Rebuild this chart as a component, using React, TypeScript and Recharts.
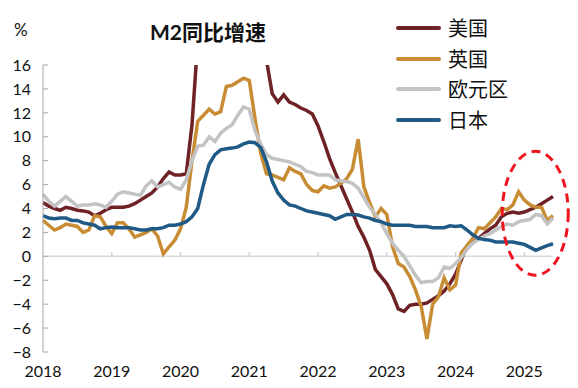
import { LineChart, Line, XAxis, YAxis, Legend, ReferenceLine, ReferenceDot } from 'recharts';

// monthly, Jan 2018 .. Jun 2025
const YEARS = ['2018', '2019', '2020', '2021', '2022', '2023', '2024', '2025'];
const Y_TICKS = [-8, -6, -4, -2, 0, 2, 4, 6, 8, 10, 12, 14, 16];

const US = [
  4.5, 4.2, 4.0, 3.85, 4.1, 4.0, 3.85, 3.8, 3.7, 3.4, 3.6, 3.9,
  4.1, 4.1, 4.1, 4.2, 4.4, 4.7, 5.0, 5.3, 5.8, 6.5, 7.05, 6.8,
  6.8, 6.9, 11.0, 18.0, 23.0, 23.5, 23.5, 23.8, 24.5, 24.2, 24.8, 25.5,
  26.0, 27.0, 24.0, 16.4, 13.6, 12.9, 13.5, 12.9, 12.7, 12.4, 12.2, 11.9,
  10.9, 9.6, 8.2, 7.0, 5.9, 4.8, 3.7, 2.5, 1.6, 0.5, -1.1, -1.7,
  -2.3, -3.2, -4.4, -4.6, -4.1, -4.0, -4.0, -3.9, -3.6, -3.3, -2.9, -2.3,
  -1.5, -0.3, 0.9, 1.1, 1.5, 1.9, 2.3, 2.6, 3.3, 3.6, 3.7, 3.6,
  3.7, 3.9, 4.1, 4.4, 4.7, 5.0,
];
const UK = [
  3.0, 2.6, 2.2, 2.4, 2.7, 2.6, 2.5, 2.0, 2.2, 3.4, 3.3, 2.5,
  1.9, 2.8, 2.8, 2.3, 1.6, 1.8, 2.0, 2.3, 1.7, 0.2, 0.8, 1.35,
  2.3, 4.1, 8.0, 11.3, 11.8, 12.3, 11.9, 12.1, 14.2, 14.3, 14.6, 14.9,
  14.7, 11.5, 8.6, 6.9, 6.8, 6.6, 6.4, 7.4, 7.1, 6.9, 6.0, 5.5,
  5.4, 5.9, 5.7, 5.8, 6.1, 6.5, 7.3, 9.8, 5.8, 4.5, 3.3, 4.0,
  3.5, 0.8, -0.6, -0.9, -1.7, -2.8, -4.2, -6.9, -4.0, -3.4, -1.8, -2.8,
  -2.4, 0.3, 0.9, 1.5, 2.4, 2.3, 2.8, 3.3, 4.0, 3.9, 4.3, 5.4,
  4.7, 4.3, 4.1, 4.1, 3.0, 3.4,
];
const EA = [
  5.2, 4.6, 4.2, 4.6, 5.0, 4.6, 4.2, 4.3, 4.3, 4.4, 4.3, 4.1,
  4.6, 5.2, 5.4, 5.3, 5.2, 5.1, 5.9, 6.3, 5.8, 6.0, 6.2, 5.8,
  5.6, 6.4, 8.0, 9.2, 9.3, 10.0, 9.6, 10.3, 10.7, 11.0, 11.8, 12.5,
  12.3, 10.5, 9.4, 8.5, 8.2, 8.1, 8.0, 7.9, 7.7, 7.5, 7.1, 7.0,
  6.8, 6.8, 6.8, 6.4, 6.3, 6.25, 6.1, 5.7, 4.9, 4.1, 3.5, 2.8,
  1.9, 1.1, 0.5, 0.0, -0.8, -1.6, -2.2, -2.1, -2.1, -1.8, -0.9, -1.0,
  -0.6, -0.1, 0.6, 1.1, 1.4, 1.7, 1.9, 2.2, 2.5, 2.7, 2.6, 2.9,
  3.0, 3.1, 3.5, 3.4, 2.7, 3.2,
];
const JP = [
  3.4, 3.2, 3.15, 3.2, 3.2, 3.0, 3.0, 2.8, 2.7, 2.6, 2.3, 2.4,
  2.45, 2.4, 2.4, 2.4, 2.3, 2.2, 2.2, 2.3, 2.3, 2.4, 2.6, 2.6,
  2.7, 2.9, 3.3, 4.0, 6.0, 7.7, 8.5, 8.9, 9.0, 9.05, 9.15, 9.4,
  9.55, 9.5, 9.1, 7.9, 6.3, 5.3, 4.7, 4.3, 4.2, 4.0, 3.8, 3.7,
  3.6, 3.5, 3.4, 3.1, 3.3, 3.5, 3.5, 3.45, 3.3, 3.2, 3.0, 2.9,
  2.7, 2.6, 2.6, 2.6, 2.6, 2.5, 2.5, 2.5, 2.4, 2.4, 2.4, 2.55,
  2.5, 2.55, 2.2, 1.8, 1.5, 1.4, 1.35, 1.2, 1.2, 1.2, 1.2, 1.1,
  1.0, 0.75, 0.5, 0.7, 0.9, 1.05,
];

const SERIES = [
  { key: 'us', name: '美国', color: '#6f2226', values: US },
  { key: 'uk', name: '英国', color: '#c88d34', values: UK },
  { key: 'ea', name: '欧元区', color: '#c3c3c3', values: EA },
  { key: 'jp', name: '日本', color: '#1f5a86', values: JP },
];

const data = US.map((_, i) => {
  const row: Record<string, number> = { m: i };
  SERIES.forEach((s) => { row[s.key] = s.values[i]; });
  return row;
});

const FONT = "Lato, 'Noto Sans CJK SC', sans-serif";
const CJK = "'Noto Sans CJK SC', sans-serif";

function LegendBox() {
  return (
    <div style={{ fontFamily: CJK }}>
      {SERIES.map((s) => (
        <div key={s.key} style={{ display: 'flex', alignItems: 'center', height: 30.5 }}>
          <span style={{ width: 45, height: 4, borderRadius: 2, background: s.color, marginRight: 7 }} />
          <span style={{ fontSize: 20, color: '#111', lineHeight: '20px' }}>{s.name}</span>
        </div>
      ))}
    </div>
  );
}

export default function App() {
  return (
    <div style={{ position: 'relative', width: 578, height: 388, background: '#fff' }}>
      <style>{'body{margin:0}'}</style>
      <LineChart width={578} height={388} data={data} margin={{ top: 65, right: 25, bottom: 0, left: 0 }}>
        <XAxis
          type="number"
          dataKey="m"
          domain={[0, 89]}
          ticks={YEARS.map((_, i) => i * 12)}
          interval={0}
          tickFormatter={(v: number) => YEARS[v / 12]}
          axisLine={false}
          tickLine={false}
          tickSize={0}
          tickMargin={14}
          height={36}
          tick={{ fontSize: 16, fill: '#111', fontFamily: FONT }}
        />
        <YAxis
          domain={[-8, 16]}
          ticks={Y_TICKS}
          interval={0}
          allowDataOverflow
          width={43}
          stroke="#a6a6a6"
          tickSize={-5}
          tickMargin={17}
          tickFormatter={(v: number) => (v < 0 ? `\u2212${-v}` : `${v}`)}
          tick={{ fontSize: 16, fill: '#111', fontFamily: FONT }}
        />
        <ReferenceLine y={0} stroke="#d9d9d9" strokeWidth={1.5} />
        {YEARS.slice(1).map((_, i) => (
          <ReferenceLine
            key={i}
            segment={[{ x: (i + 1) * 12, y: 0 }, { x: (i + 1) * 12, y: 0.35 }]}
            stroke="#cfcfcf"
            strokeWidth={1.5}
          />
        ))}
        {SERIES.map((s) => (
          <Line
            key={s.key}
            type="linear"
            dataKey={s.key}
            name={s.name}
            stroke={s.color}
            strokeWidth={3.5}
            dot={false}
            isAnimationActive={false}
          />
        ))}
        <ReferenceDot
          x={85.9}
          y={3.6}
          ifOverflow="visible"
          shape={(p: { cx?: number; cy?: number }) => (
            <ellipse
              cx={p.cx}
              cy={p.cy}
              rx={33}
              ry={62}
              fill="none"
              stroke="#f0141e"
              strokeWidth={3}
              strokeDasharray="9 6"
            />
          )}
        />
        <Legend
          layout="vertical"
          align="center"
          verticalAlign="middle"
          wrapperStyle={{ top: 13, left: 396, width: 180 }}
          content={() => <LegendBox />}
        />
      </LineChart>
      <div style={{ position: 'absolute', left: 14, top: 19, fontSize: 17, fontFamily: FONT, color: '#111' }}>%</div>
      <div
        style={{
          position: 'absolute',
          left: 0,
          width: 416,
          top: 16,
          textAlign: 'center',
          fontSize: 21,
          fontWeight: 700,
          fontFamily: FONT,
          color: '#111',
        }}
      >
        M2同比增速
      </div>
    </div>
  );
}
